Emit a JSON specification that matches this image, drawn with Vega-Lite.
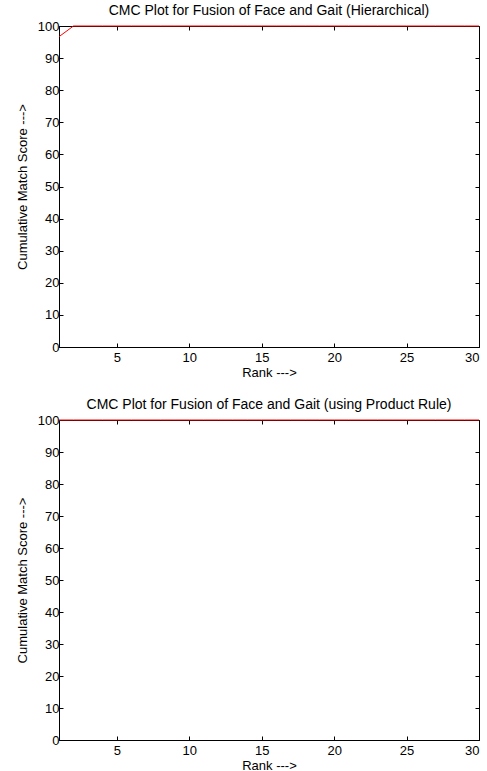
{
  "$schema": "https://vega.github.io/schema/vega-lite/v6.json",
  "autosize": {"type": "pad"},
  "padding": {"left": 15, "top": 3, "right": 0, "bottom": 0},
  "background": "white",
  "bounds": "flush",
  "spacing": 73,
  "config": {
    "font": "Liberation Sans",
    "view": {"stroke": "black", "strokeWidth": 1},
    "axis": {
      "domainColor": "black", "domainWidth": 1,
      "tickColor": "black", "tickSize": -4, "tickWidth": 1,
      "labelColor": "black", "labelFontSize": 13, "labelFont": "Liberation Sans",
      "titleColor": "black", "titleFontSize": 13, "titleFontWeight": "normal", "titleFont": "Liberation Sans",
      "grid": false
    },
    "title": {"fontSize": 14, "fontWeight": "normal", "font": "Liberation Sans", "color": "black", "offset": 0, "dy": 2}
  },
  "datasets": {
    "hier": [
      {"rank": 1, "score": 96.67}, {"rank": 2, "score": 100}, {"rank": 3, "score": 100}, {"rank": 4, "score": 100}, {"rank": 5, "score": 100},
      {"rank": 6, "score": 100}, {"rank": 7, "score": 100}, {"rank": 8, "score": 100}, {"rank": 9, "score": 100}, {"rank": 10, "score": 100},
      {"rank": 11, "score": 100}, {"rank": 12, "score": 100}, {"rank": 13, "score": 100}, {"rank": 14, "score": 100}, {"rank": 15, "score": 100},
      {"rank": 16, "score": 100}, {"rank": 17, "score": 100}, {"rank": 18, "score": 100}, {"rank": 19, "score": 100}, {"rank": 20, "score": 100},
      {"rank": 21, "score": 100}, {"rank": 22, "score": 100}, {"rank": 23, "score": 100}, {"rank": 24, "score": 100}, {"rank": 25, "score": 100},
      {"rank": 26, "score": 100}, {"rank": 27, "score": 100}, {"rank": 28, "score": 100}, {"rank": 29, "score": 100}, {"rank": 30, "score": 100}
    ],
    "prod": [
      {"rank": 1, "score": 100}, {"rank": 2, "score": 100}, {"rank": 3, "score": 100}, {"rank": 4, "score": 100}, {"rank": 5, "score": 100},
      {"rank": 6, "score": 100}, {"rank": 7, "score": 100}, {"rank": 8, "score": 100}, {"rank": 9, "score": 100}, {"rank": 10, "score": 100},
      {"rank": 11, "score": 100}, {"rank": 12, "score": 100}, {"rank": 13, "score": 100}, {"rank": 14, "score": 100}, {"rank": 15, "score": 100},
      {"rank": 16, "score": 100}, {"rank": 17, "score": 100}, {"rank": 18, "score": 100}, {"rank": 19, "score": 100}, {"rank": 20, "score": 100},
      {"rank": 21, "score": 100}, {"rank": 22, "score": 100}, {"rank": 23, "score": 100}, {"rank": 24, "score": 100}, {"rank": 25, "score": 100},
      {"rank": 26, "score": 100}, {"rank": 27, "score": 100}, {"rank": 28, "score": 100}, {"rank": 29, "score": 100}, {"rank": 30, "score": 100}
    ]
  },
  "vconcat": [
    {
      "title": "CMC Plot for Fusion of Face and Gait (Hierarchical)",
      "width": 420, "height": 321,
      "data": {"name": "hier"},
      "resolve": {"axis": {"x": "independent", "y": "independent"}},
      "layer": [
        {
          "mark": {"type": "line", "color": "#ff0000", "strokeWidth": 1, "clip": false},
          "encoding": {
            "x": {"field": "rank", "type": "quantitative", "scale": {"domain": [1, 30], "nice": false, "zero": false},
                  "axis": {"values": [5, 10, 15, 20, 25, 30], "title": "Rank --->", "labelPadding": 8, "titlePadding": 2}},
            "y": {"field": "score", "type": "quantitative", "scale": {"domain": [0, 100], "nice": false},
                  "axis": {"values": [0, 10, 20, 30, 40, 50, 60, 70, 80, 90, 100], "title": "Cumulative Match Score --->", "labelPadding": 4, "titlePadding": 8}}
          }
        },
        {
          "mark": {"type": "line", "opacity": 0},
          "encoding": {
            "x": {"field": "rank", "type": "quantitative", "axis": {"orient": "top", "values": [5, 10, 15, 20, 25, 30], "labels": false, "title": null, "domain": false}},
            "y": {"field": "score", "type": "quantitative", "axis": {"orient": "right", "values": [0, 10, 20, 30, 40, 50, 60, 70, 80, 90, 100], "labels": false, "title": null, "domain": false}}
          }
        }
      ]
    },
    {
      "title": "CMC Plot for Fusion of Face and Gait (using Product Rule)",
      "width": 420, "height": 320,
      "data": {"name": "prod"},
      "resolve": {"axis": {"x": "independent", "y": "independent"}},
      "layer": [
        {
          "mark": {"type": "line", "color": "#ff0000", "strokeWidth": 1, "clip": false},
          "encoding": {
            "x": {"field": "rank", "type": "quantitative", "scale": {"domain": [1, 30], "nice": false, "zero": false},
                  "axis": {"values": [5, 10, 15, 20, 25, 30], "title": "Rank --->", "labelPadding": 8, "titlePadding": 2}},
            "y": {"field": "score", "type": "quantitative", "scale": {"domain": [0, 100], "nice": false},
                  "axis": {"values": [0, 10, 20, 30, 40, 50, 60, 70, 80, 90, 100], "title": "Cumulative Match Score --->", "labelPadding": 4, "titlePadding": 8}}
          }
        },
        {
          "mark": {"type": "line", "opacity": 0},
          "encoding": {
            "x": {"field": "rank", "type": "quantitative", "axis": {"orient": "top", "values": [5, 10, 15, 20, 25, 30], "labels": false, "title": null, "domain": false}},
            "y": {"field": "score", "type": "quantitative", "axis": {"orient": "right", "values": [0, 10, 20, 30, 40, 50, 60, 70, 80, 90, 100], "labels": false, "title": null, "domain": false}}
          }
        }
      ]
    }
  ]
}
